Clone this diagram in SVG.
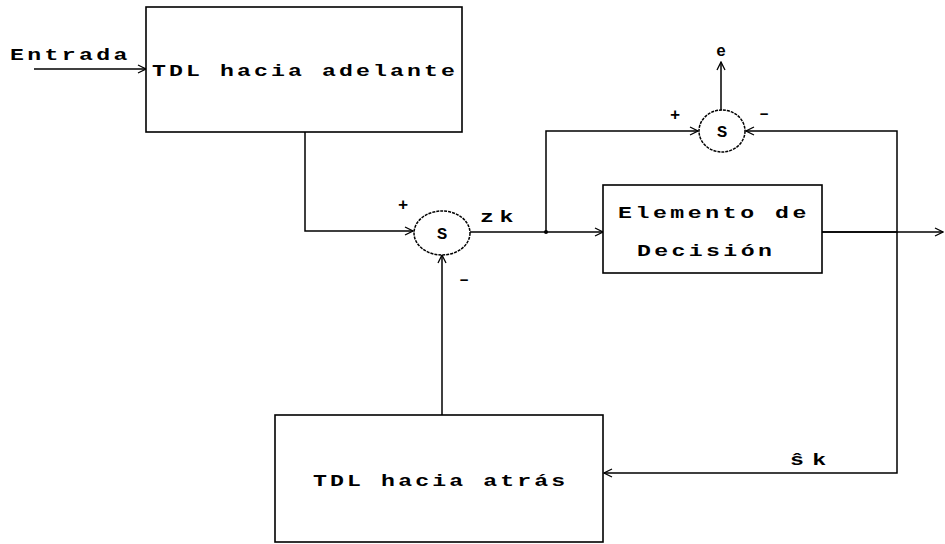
<svg xmlns="http://www.w3.org/2000/svg" width="945" height="544" viewBox="0 0 945 544">
<defs>
<marker id="arr" viewBox="0 0 10 10" refX="9" refY="5" markerWidth="10" markerHeight="10" markerUnits="userSpaceOnUse" orient="auto">
<path d="M1,1 L9,5 L1,9" fill="none" stroke="#000" stroke-width="1.3"/>
</marker>
</defs>
<style>
.box{fill:#fff;stroke:#000;stroke-width:1.6}
.sum{fill:#fff;stroke:#000;stroke-width:1.5;stroke-dasharray:3 1}
.ln{fill:none;stroke:#000;stroke-width:1.5}
.t{font-family:"Liberation Mono","DejaVu Sans Mono",monospace;font-weight:bold;font-size:16px;fill:#000}
.s{font-family:"Liberation Mono","DejaVu Sans Mono",monospace;font-weight:bold;font-size:17px;fill:#000}
</style>
<rect width="945" height="544" fill="#fff"/>
<g id="connectors">
<line class="ln" x1="34" y1="69" x2="146" y2="69" marker-end="url(#arr)"/>
<polyline class="ln" points="305,132 305,231 413,231" marker-end="url(#arr)"/>
<line class="ln" x1="470" y1="232" x2="603" y2="232" marker-end="url(#arr)"/>
<polyline class="ln" points="546,232 546,131 698,131" marker-end="url(#arr)"/>
<line class="ln" x1="721" y1="110" x2="721" y2="62" marker-end="url(#arr)"/>
<line class="ln" x1="822" y1="232" x2="943" y2="232" marker-end="url(#arr)"/>
<polyline class="ln" points="822,232 897,232 897,131 746,131" marker-end="url(#arr)"/>
<polyline class="ln" points="897,232 897,473 604,473" marker-end="url(#arr)"/>
<line class="ln" x1="442" y1="415" x2="442" y2="255" marker-end="url(#arr)"/>
<circle cx="546" cy="232" r="2" fill="#000"/>
</g>
<g id="entrada">
<text class="t" transform="translate(10,60) scale(1.45,1)" textLength="81" lengthAdjust="spacing">Entrada</text>
</g>
<g id="tdl-adelante">
<rect class="box" x="146" y="7" width="316" height="125"/>
<text class="t" transform="translate(152,76) scale(1.45,1)" textLength="209" lengthAdjust="spacing">TDL hacia adelante</text>
</g>
<g id="sum1">
<ellipse class="sum" cx="442" cy="233" rx="28" ry="22"/>
<text class="s" x="442" y="239" text-anchor="middle">S</text>
<text class="s" x="403" y="210" text-anchor="middle">+</text>
<text class="s" x="464" y="284" text-anchor="middle">–</text>
<text class="t" transform="translate(480,222) scale(1.45,1)" textLength="23" lengthAdjust="spacing">zk</text>
</g>
<g id="sum2">
<ellipse class="sum" cx="722" cy="131" rx="23" ry="21"/>
<text class="s" x="722" y="137" text-anchor="middle">S</text>
<text class="s" x="675" y="120" text-anchor="middle">+</text>
<text class="s" x="764" y="118" text-anchor="middle">–</text>
<text class="t" x="721" y="56" text-anchor="middle">e</text>
</g>
<g id="decision">
<rect class="box" x="603" y="185" width="219" height="88"/>
<text class="t" transform="translate(618,218) scale(1.45,1)" textLength="130" lengthAdjust="spacing">Elemento de</text>
<text class="t" transform="translate(637,256) scale(1.45,1)" textLength="93" lengthAdjust="spacing">Decisión</text>
</g>
<g id="tdl-atras">
<rect class="box" x="275" y="415" width="328" height="127"/>
<text class="t" transform="translate(313,486) scale(1.45,1)" textLength="174" lengthAdjust="spacing">TDL hacia atrás</text>
</g>
<g id="sk">
<text class="t" transform="translate(790,465) scale(1.45,1)" textLength="25" lengthAdjust="spacing">ŝk</text>
</g>
</svg>
